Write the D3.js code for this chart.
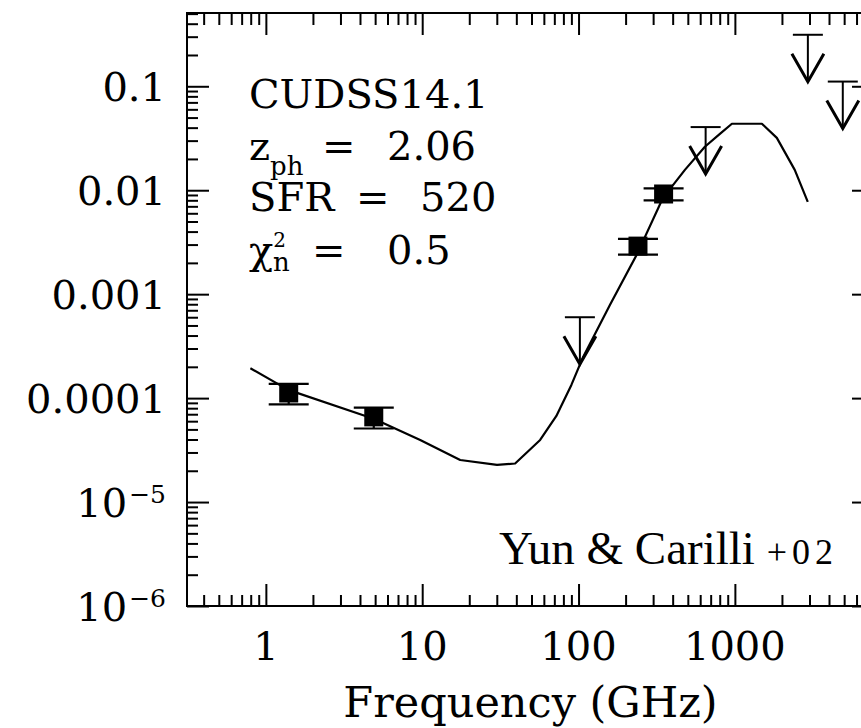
<!DOCTYPE html>
<html><head><meta charset="utf-8">
<script src="https://cdn.jsdelivr.net/npm/d3@7"></script>
<style>body{margin:0;background:#fff} svg{display:block}</style>
</head><body>
<script>
// ---- data ----
const detFreq = [1.4, 4.9, 240, 350];
const detFlux = [1.12e-4, 6.6e-5, 2.9e-3, 9.2e-3];
const detErr  = [0.25e-4, 1.5e-5, 0.5e-3, 1.2e-3];
const ulFreq = [102, 650, 2930, 4900];
const ulFlux = [6.0e-4, 0.0405, 0.313, 0.111];
const modelFreq = [0.796, 1.39, 4.94, 9.71, 17.5, 30.1, 39.3, 56.8, 72, 90, 107, 159, 237, 347, 479, 643, 802, 957, 1489, 1855, 2415, 2926];
const modelFlux = [1.94e-4, 1.2e-4, 6.3e-5, 3.96e-5, 2.54e-5, 2.28e-5, 2.35e-5, 3.96e-5, 6.7e-5, 1.34e-4, 2.49e-4, 7.9e-4, 2.44e-3, 8.45e-3, 0.0157, 0.0262, 0.0349, 0.0436, 0.0436, 0.0319, 0.0157, 7.73e-3];
const xTicks = [1, 10, 100, 1000];
const xTickLabels = ["1", "10", "100", "1000"];
const yTicks = [1e-6, 1e-5, 1e-4, 1e-3, 1e-2, 0.1];
const yTickLabels = [["10", "\u22126"], ["10", "\u22125"], ["0.0001"], ["0.001"], ["0.01"], ["0.1"]];
const xTitle = "Frequency (GHz)";
const sourceName = "CUDSS14.1";
const zph = "2.06", sfr = "520", chi2 = "0.5";
const credit = "Yun & Carilli ", creditYear = "+02";

// ---- layout ----
const W = 861, H = 728;
const L = 187, R = 874, T = 13, B = 606;
const FONT = "DejaVu Serif";

const svg = d3.select("body").append("svg").attr("width", W).attr("height", H);

const x = d3.scaleLog().domain([0.313, 7760]).range([L, R]);
const y = d3.scaleLog().domain([1e-6, 0.507]).range([B, T]);

const isMajor = v => Math.abs(Math.log10(v) - Math.round(Math.log10(v))) < 1e-6;
const xMinor = x.ticks().filter(v => !isMajor(v));
const yMinor = y.ticks().filter(v => !isMajor(v));

function styleAxis(g) {
  g.select(".domain").remove();
  g.selectAll("line").attr("stroke", "#000").attr("stroke-width", 2);
  g.selectAll("text").remove();
}
// bottom
svg.append("g").attr("transform", `translate(0,${B})`)
  .call(d3.axisBottom(x).tickValues(xTicks).tickSize(-22).tickFormat("")).call(styleAxis);
svg.append("g").attr("transform", `translate(0,${B})`)
  .call(d3.axisBottom(x).tickValues(xMinor).tickSize(-11).tickFormat("")).call(styleAxis);
// top
svg.append("g").attr("transform", `translate(0,${T})`)
  .call(d3.axisTop(x).tickValues(xTicks).tickSize(-22).tickFormat("")).call(styleAxis);
svg.append("g").attr("transform", `translate(0,${T})`)
  .call(d3.axisTop(x).tickValues(xMinor).tickSize(-12).tickFormat("")).call(styleAxis);
// left
svg.append("g").attr("transform", `translate(${L},0)`)
  .call(d3.axisLeft(y).tickValues(yTicks).tickSize(-22).tickFormat("")).call(styleAxis);
svg.append("g").attr("transform", `translate(${L},0)`)
  .call(d3.axisLeft(y).tickValues(yMinor).tickSize(-11).tickFormat("")).call(styleAxis);
// right
svg.append("g").attr("transform", `translate(${R},0)`)
  .call(d3.axisRight(y).tickValues(yTicks).tickSize(-22).tickFormat("")).call(styleAxis);
svg.append("g").attr("transform", `translate(${R},0)`)
  .call(d3.axisRight(y).tickValues(yMinor).tickSize(-11).tickFormat("")).call(styleAxis);

// frame
svg.append("rect").attr("x", L).attr("y", T).attr("width", R - L).attr("height", B - T)
  .attr("fill", "none").attr("stroke", "#000").attr("stroke-width", 2);

// tick labels
const txt = svg.append("g").attr("font-family", FONT).attr("font-size", 40).attr("fill", "#000");
xTicks.forEach((v, i) => {
  txt.append("text").attr("x", x(v)).attr("y", 660).attr("text-anchor", "middle").text(xTickLabels[i]);
});
yTicks.forEach((v, i) => {
  const lab = yTickLabels[i];
  const t = txt.append("text").attr("x", 166).attr("y", y(v) + 15).attr("text-anchor", "end");
  if (lab.length === 1) t.text(lab[0]);
  else {
    t.append("tspan").text(lab[0]);
    t.append("tspan").attr("font-size", 25).attr("dx", 2).attr("dy", -14).text(lab[1]);
  }
});
// axis title
txt.append("text").attr("x", (L + R) / 2).attr("y", 717).attr("text-anchor", "middle")
  .attr("font-size", 43).text(xTitle);

// info block
const ib = txt.append("g");
ib.append("text").attr("x", 249).attr("y", 108).text(sourceName);
const l2 = ib.append("text").attr("x", 249).attr("y", 160);
l2.append("tspan").text("z");
l2.append("tspan").attr("font-size", 26).attr("dy", 15).text("ph");
ib.append("text").attr("x", 322).attr("y", 160).text("=");
ib.append("text").attr("x", 387).attr("y", 160).text(zph);
ib.append("text").attr("x", 249).attr("y", 211).text("SFR");
ib.append("text").attr("x", 356).attr("y", 211).text("=");
ib.append("text").attr("x", 420).attr("y", 211).text(sfr);
const l4 = ib.append("text").attr("x", 249).attr("y", 264);
l4.append("tspan").text("\u03c7");
l4.append("tspan").attr("font-size", 20).attr("dy", -17).text("2");
l4.append("tspan").attr("x", 273).attr("font-size", 26).attr("dy", 24).text("n");
ib.append("text").attr("x", 312).attr("y", 264).text("=");
ib.append("text").attr("x", 387).attr("y", 264).text(chi2);

// credit
const cr = svg.append("text").attr("x", 499).attr("y", 564)
  .attr("font-family", "Liberation Serif").attr("font-size", 47).attr("fill", "#000");
cr.append("tspan").text(credit);
cr.append("tspan").attr("font-size", 36).attr("letter-spacing", 5).text(creditYear);

// model curve
const line = d3.line().x(d => x(d[0])).y(d => y(d[1]));
svg.append("path").datum(modelFreq.map((f, i) => [f, modelFlux[i]]))
  .attr("d", line).attr("fill", "none").attr("stroke", "#000").attr("stroke-width", 2.2)
  .attr("stroke-linejoin", "round");

// detections
const det = svg.append("g").attr("stroke", "#000").attr("stroke-width", 2.2);
detFreq.forEach((f, i) => {
  const cx = x(f), cy = y(detFlux[i]);
  const yt = y(detFlux[i] + detErr[i]), yb = y(detFlux[i] - detErr[i]);
  det.append("line").attr("x1", cx).attr("x2", cx).attr("y1", yt).attr("y2", yb);
  det.append("line").attr("x1", cx - 20).attr("x2", cx + 20).attr("y1", yt).attr("y2", yt);
  det.append("line").attr("x1", cx - 20).attr("x2", cx + 20).attr("y1", yb).attr("y2", yb);
  det.append("rect").attr("x", cx - 9.5).attr("y", cy - 9.5).attr("width", 19).attr("height", 19)
    .attr("fill", "#000").attr("stroke", "none");
});

// upper limits
const ul = svg.append("g").attr("stroke", "#000").attr("fill", "none").attr("stroke-width", 2.4);
ulFreq.forEach((f, i) => {
  const cx = x(f), cy = y(ulFlux[i]), tip = cy + 47;
  ul.append("line").attr("x1", cx - 15).attr("x2", cx + 15).attr("y1", cy).attr("y2", cy).attr("stroke-width", 2);
  ul.append("line").attr("x1", cx).attr("x2", cx).attr("y1", cy).attr("y2", tip).attr("stroke-width", 2);
  ul.append("path").attr("d", `M${cx - 16},${tip - 28}L${cx},${tip}L${cx + 16},${tip - 28}`)
    .attr("stroke-width", 3).attr("stroke-linejoin", "miter");
});
</script>
</body></html>
